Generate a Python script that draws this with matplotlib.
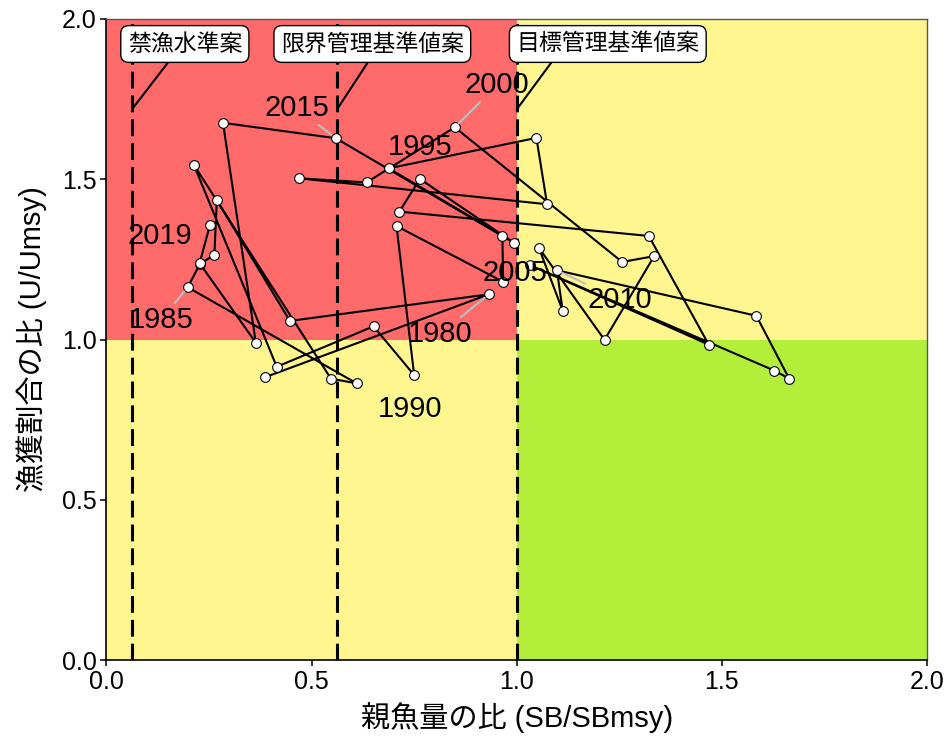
import matplotlib
matplotlib.use("Agg")
import matplotlib.pyplot as plt
from matplotlib.patches import Rectangle

plt.rcParams['font.family'] = ['Liberation Sans', 'Noto Sans CJK JP']

# stock trajectory, in time order
sb_ratio = [0.386, 0.932, 0.447, 0.269, 0.263, 0.228, 0.198, 0.610, 0.547, 0.213,
            0.415, 0.651, 0.750, 0.707, 0.967, 0.965, 0.688, 1.048, 1.074, 0.469,
            0.634, 0.849, 1.257, 1.335, 1.214, 1.054, 1.112, 1.098, 1.584, 1.664,
            1.628, 1.032, 1.468, 1.322, 0.714, 0.764, 0.993, 0.559, 0.284, 0.364,
            0.227, 0.252]
u_ratio = [0.882, 1.141, 1.058, 1.435, 1.264, 1.236, 1.163, 0.863, 0.878, 1.545,
           0.915, 1.041, 0.889, 1.354, 1.180, 1.324, 1.534, 1.629, 1.422, 1.503,
           1.490, 1.662, 1.242, 1.260, 0.999, 1.286, 1.090, 1.216, 1.074, 0.878,
           0.903, 1.232, 0.984, 1.323, 1.399, 1.501, 1.302, 1.628, 1.676, 0.990,
           1.238, 1.356]

# year labels: text, index of the point, label position, draw a segment?
year_text = ["1980", "1985", "1990", "1995", "2000", "2005", "2010", "2015", "2019"]
year_idx = [1, 6, 12, 16, 21, 14, 27, 37, 41]
year_pos = [(0.813, 1.017), (0.133, 1.061), (0.740, 0.783), (0.764, 1.601),
            (0.952, 1.794), (0.996, 1.208), (1.252, 1.123), (0.464, 1.722),
            (0.130, 1.323)]
year_seg = [True, True, False, False, True, False, True, True, False]

# reference points
ref_names = ["禁漁水準案", "限界管理基準値案", "目標管理基準値案"]
ref_sb = [0.062, 0.562, 1.0]
ref_box_x = [0.191, 0.648, 1.222]
ref_relpos = [0.40, 0.50, 0.22]

red = "#FF6A6A"
yellow = "#FFF68F"
green = "#B3EE3A"

fig = plt.figure(figsize=(9.49, 7.42), dpi=100)
ax = fig.add_axes([0.1122, 0.1105, 0.8646, 0.8639])

# kobe quadrants
ax.add_patch(Rectangle((0, 1), 1, 1, fc=red, ec="none", zorder=0))
ax.add_patch(Rectangle((0, 0), 1, 1, fc=yellow, ec="none", zorder=0))
ax.add_patch(Rectangle((1, 1), 1, 1, fc=yellow, ec="none", zorder=0))
ax.add_patch(Rectangle((1, 0), 1, 1, fc=green, ec="none", zorder=0))

for xv in ref_sb:
    ax.axvline(xv, color="black", lw=2.2, dashes=(5.5, 2.3), zorder=1)

ax.plot(sb_ratio, u_ratio, color="black", lw=1.5, zorder=2)
ax.plot(sb_ratio, u_ratio, ls="none", marker="o", ms=7, mfc="white",
        mec="black", mew=0.8, zorder=3)

for txt, i, pos, seg in zip(year_text, year_idx, year_pos, year_seg):
    if seg:
        ax.annotate(txt, xy=(sb_ratio[i], u_ratio[i]), xytext=pos,
                    fontsize=21, ha="center", va="center", zorder=4,
                    arrowprops=dict(arrowstyle="-", color="#BEBEBE", lw=1.5,
                                    shrinkA=0, shrinkB=4))
    else:
        ax.text(pos[0], pos[1], txt, fontsize=21, ha="center", va="center", zorder=4)

for name, xv, bx, rp in zip(ref_names, ref_sb, ref_box_x, ref_relpos):
    ax.annotate(name, xy=(xv, 1.718), xytext=(bx, 1.922), fontsize=16.5,
                ha="center", va="center", zorder=5,
                bbox=dict(boxstyle="round,pad=0.3,rounding_size=0.35",
                          fc="white", ec="black", lw=1),
                arrowprops=dict(arrowstyle="-", color="black", lw=1.5,
                                relpos=(rp, 0), shrinkA=0, shrinkB=0))

ax.set_xlim(0, 2)
ax.set_ylim(0, 2)
ticks = [0, 0.5, 1.0, 1.5, 2.0]
ax.set_xticks(ticks)
ax.set_yticks(ticks)
ax.set_xticklabels(["%.1f" % t for t in ticks])
ax.set_yticklabels(["%.1f" % t for t in ticks])
ax.tick_params(labelsize=18, length=4, width=1.1, colors="black", pad=3)

for s in ["left", "bottom"]:
    ax.spines[s].set_color("black")
    ax.spines[s].set_linewidth(1.2)
for s in ["top", "right"]:
    ax.spines[s].set_color("#555555")
    ax.spines[s].set_linewidth(1.0)

ax.set_xlabel("親魚量の比 (SB/SBmsy)", fontsize=21, labelpad=6)
ax.set_ylabel("漁獲割合の比 (U/Umsy)", fontsize=21, labelpad=11)

fig.savefig("out.png", dpi=100)
